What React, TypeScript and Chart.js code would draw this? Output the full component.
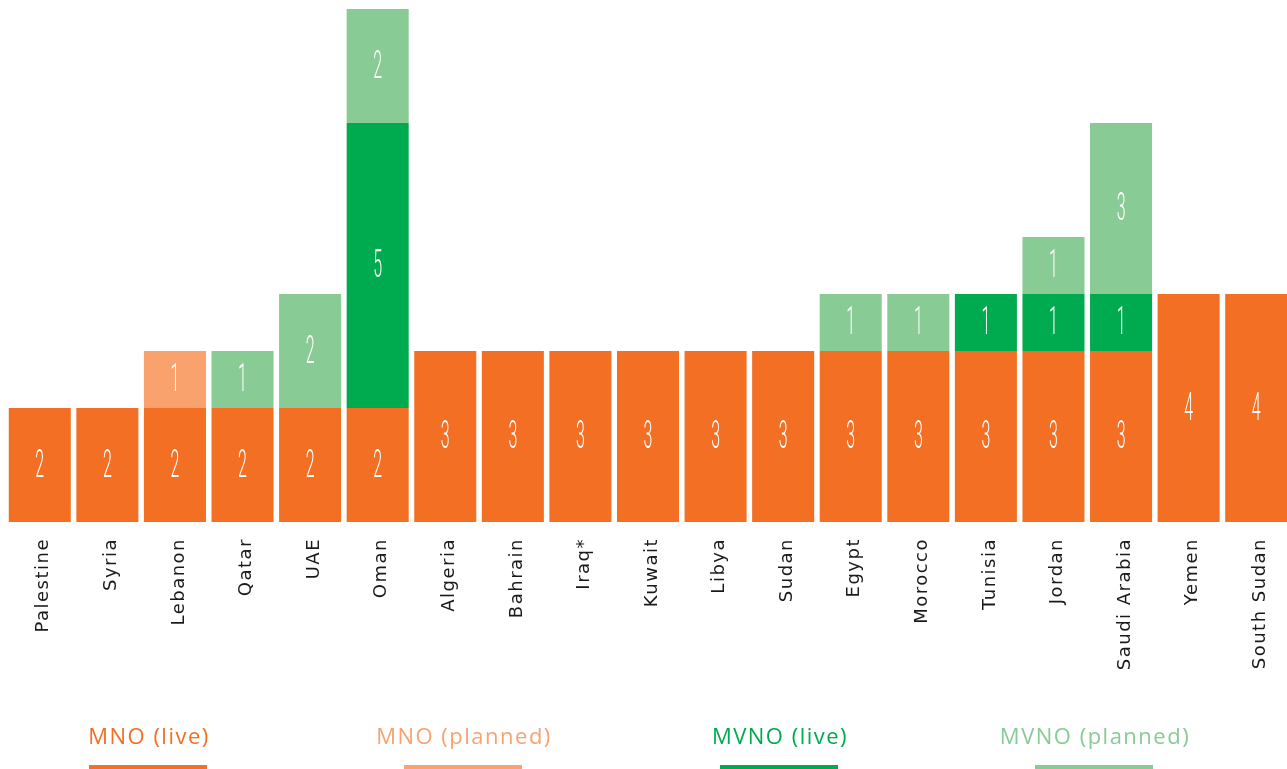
import React, { useEffect, useRef } from "react";
import { Chart, registerables } from "chart.js";

Chart.register(...registerables);

const categories = [
  "Palestine", "Syria", "Lebanon", "Qatar", "UAE", "Oman", "Algeria", "Bahrain", "Iraq*",
  "Kuwait", "Libya", "Sudan", "Egypt", "Morocco", "Tunisia", "Jordan", "Saudi Arabia", "Yemen", "South Sudan",
];
const mnoLive = [2, 2, 2, 2, 2, 2, 3, 3, 3, 3, 3, 3, 3, 3, 3, 3, 3, 4, 4];
const mnoPlanned = [0, 0, 1, 0, 0, 0, 0, 0, 0, 0, 0, 0, 0, 0, 0, 0, 0, 0, 0];
const mvnoLive = [0, 0, 0, 0, 0, 5, 0, 0, 0, 0, 0, 0, 0, 0, 1, 1, 1, 0, 0];
const mvnoPlanned = [0, 0, 0, 1, 2, 2, 0, 0, 0, 0, 0, 0, 1, 1, 0, 1, 3, 0, 0];
const seriesNames = ["MNO (live)", "MNO (planned)", "MVNO (live)", "MVNO (planned)"];
const seriesColors = ["#F36F24", "#F9A26E", "#00AB4F", "#88CB95"];

const W = 1290;
const H = 769;

const drawPlugin = {
  id: "customDraw",
  afterDatasetsDraw(chart: any) {
    const ctx = chart.ctx as CanvasRenderingContext2D;
    // value labels
    chart.data.datasets.forEach((ds: any, di: number) => {
      const meta = chart.getDatasetMeta(di);
      meta.data.forEach((bar: any, i: number) => {
        const v = ds.data[i];
        if (!v) return;
        const cy = (bar.y + bar.base) / 2;
        ctx.save();
        ctx.translate(bar.x, cy);
        ctx.scale(0.42, 1);
        ctx.fillStyle = "#ffffff";
        ctx.font = "300 38px Roboto";
        ctx.textAlign = "center";
        ctx.textBaseline = "middle";
        ctx.fillText(String(v), 0, 2);
        ctx.restore();
      });
    });
    // category labels
    const xs = chart.scales.x;
    categories.forEach((c, i) => {
      const x = xs.getPixelForValue(i);
      ctx.save();
      ctx.translate(x + 4, 538);
      ctx.rotate(-Math.PI / 2);
      ctx.fillStyle = "#1a1a1a";
      ctx.font = "18px 'DejaVu Sans'";
      (ctx as any).letterSpacing = "1.5px";
      ctx.textAlign = "right";
      ctx.textBaseline = "middle";
      ctx.fillText(c, 0, 0);
      ctx.restore();
    });
    // legend
    const centers = [148, 463, 779, 1094];
    seriesNames.forEach((n, i) => {
      ctx.save();
      ctx.fillStyle = seriesColors[i];
      ctx.font = "400 22px 'Open Sans'";
      (ctx as any).letterSpacing = "1.5px";
      ctx.textAlign = "center";
      ctx.textBaseline = "middle";
      ctx.fillText(n, centers[i] + 1, 738);
      ctx.fillRect(centers[i] - 59, 765, 118, 4);
      ctx.restore();
    });
  },
};

export default function App() {
  const ref = useRef<HTMLCanvasElement>(null);
  useEffect(() => {
    document.body.style.margin = "0";
    const chart = new Chart(ref.current!, {
      type: "bar",
      data: {
        labels: categories,
        datasets: [mnoLive, mnoPlanned, mvnoLive, mvnoPlanned].map((d, i) => ({
          label: seriesNames[i],
          data: d,
          backgroundColor: seriesColors[i],
          borderWidth: 0,
          barPercentage: 0.918,
          categoryPercentage: 1,
        })),
      },
      options: {
        responsive: false,
        animation: false,
        layout: { padding: { left: 6, right: 0, top: 9, bottom: 247 } },
        plugins: { legend: { display: false }, tooltip: { enabled: false } },
        scales: {
          x: { stacked: true, display: false },
          y: { stacked: true, display: false, min: 0, max: 9 },
        },
      },
      plugins: [drawPlugin],
    });
    return () => chart.destroy();
  }, []);
  return (
    <div style={{ position: "fixed", left: 0, top: 0, width: 1287, height: 769, overflow: "hidden", background: "#fff" }}>
      <canvas ref={ref} width={W} height={H} style={{ display: "block" }} />
    </div>
  );
}
